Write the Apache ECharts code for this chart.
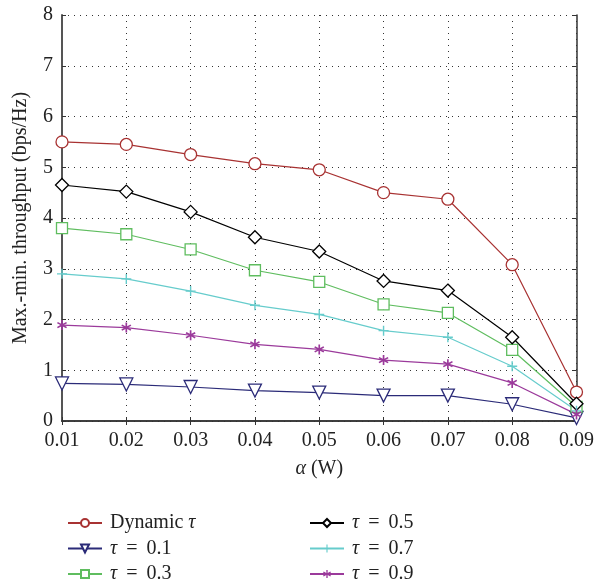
<!DOCTYPE html>
<html><head><meta charset="utf-8">
<script src="https://cdn.jsdelivr.net/npm/echarts@6/dist/echarts.min.js"></script>
<style>html,body{margin:0;padding:0;background:#fff}#c{width:597px;height:584px}</style>
</head><body><div id="c"></div>
<script>
const categories = ['0.01','0.02','0.03','0.04','0.05','0.06','0.07','0.08','0.09'];
const dynamicTau = [5.5, 5.45, 5.25, 5.07, 4.95, 4.5, 4.37, 3.08, 0.57];
const tau01 = [0.74, 0.72, 0.67, 0.6, 0.56, 0.5, 0.5, 0.33, 0.06];
const tau03 = [3.8, 3.68, 3.38, 2.97, 2.74, 2.3, 2.13, 1.4, 0.28];
const tau05 = [4.65, 4.52, 4.12, 3.62, 3.34, 2.76, 2.57, 1.65, 0.34];
const tau07 = [2.9, 2.8, 2.56, 2.28, 2.1, 1.78, 1.65, 1.08, 0.2];
const tau09 = [1.89, 1.84, 1.69, 1.51, 1.41, 1.2, 1.12, 0.75, 0.13];
const yTicks = [0,1,2,3,4,5,6,7,8];

const FONT = '"Liberation Serif","DejaVu Serif",serif';
const FS = 20;
const plusPath = 'path://M4.3,0 L5.7,0 L5.7,4.3 L10,4.3 L10,5.7 L5.7,5.7 L5.7,10 L4.3,10 L4.3,5.7 L0,5.7 L0,4.3 L4.3,4.3 Z';
const starPath = 'path://M4.3,0 L5.7,0 L5.7,3.2 L8.5,1.6 L9.2,2.8 L6.4,4.4 L9.2,6 L8.5,7.2 L5.7,5.6 L5.7,8.8 L4.3,8.8 L4.3,5.6 L1.5,7.2 L0.8,6 L3.6,4.4 L0.8,2.8 L1.5,1.6 L4.3,3.2 Z';

function mk(name, data, color, symbol, size, hollow, rotate) {
  return {
    name, type: 'line', data, xAxisIndex: 0, yAxisIndex: 0,
    symbol, symbolSize: size, symbolRotate: rotate || 0, showAllSymbol: true,
    lineStyle: { color, width: 1.2 },
    itemStyle: hollow ? { color: '#fff', borderColor: color, borderWidth: 1.3 } : { color, borderWidth: 0 },
    emphasis: { disabled: true }, animation: false, z: 3
  };
}

const series = [
  mk('Dynamic τ', dynamicTau, '#a83232', 'circle', 12, true),
  mk('τ = 0.1', tau01, '#2b2b78', 'triangle', 13, true, 180),
  mk('τ = 0.3', tau03, '#5fbd5f', 'rect', 11, true),
  mk('τ = 0.5', tau05, '#000000', 'diamond', 13, true),
  mk('τ = 0.7', tau07, '#66cccc', plusPath, 10, false),
  mk('τ = 0.9', tau09, '#9b3a9b', starPath, 10, false)
];

const italic = { fontStyle: 'italic', fontFamily: FONT, fontSize: FS, color: '#222' };
function legendFmt(n) { return n.replace(/τ/g, '{i|τ}').replace(' = ', '{e|=}'); }
const legendCommon = {
  orient: 'vertical', itemWidth: 34, itemHeight: 10, itemGap: 5.5, height: 120,
  formatter: legendFmt, selectedMode: false,
  textStyle: { fontFamily: FONT, fontSize: FS, lineHeight: 20, color: '#222', padding: [0,0,0,3],
    rich: { i: Object.assign({ lineHeight: 20 }, italic),
            e: { fontFamily: FONT, fontSize: FS, lineHeight: 20, color: '#222', padding: [0, 9] } } }
};

const axisLine = { show: true, lineStyle: { color: '#333', width: 1.5 } };
const chart = echarts.init(document.getElementById('c'), null, { renderer: 'canvas' });
chart.setOption({
  backgroundColor: '#fff',
  animation: false,
  grid: { left: 62, right: 17, top: 15, bottom: 163, containLabel: false },
  xAxis: [{
    type: 'category', data: categories, boundaryGap: false,
    axisLine: axisLine, axisTick: { show: true, inside: true, length: 4, alignWithLabel: true, lineStyle: { color: '#333' } },
    axisLabel: { fontFamily: FONT, fontSize: FS, color: '#222', margin: 10 },
    splitLine: { show: true, lineStyle: { color: '#333', type: [1, 5], width: 1 } },
    name: '{i|α} (W)', nameLocation: 'middle', nameGap: 38,
    nameTextStyle: { fontFamily: FONT, fontSize: FS, color: '#222', rich: { i: italic } }
  }, {
    type: 'category', data: categories, boundaryGap: false, position: 'top',
    axisLine: axisLine, axisTick: { show: true, inside: true, length: 4, lineStyle: { color: '#333' } },
    axisLabel: { show: false }, splitLine: { show: false }
  }],
  yAxis: [{
    type: 'value', min: 0, max: 8, interval: 1,
    axisLine: { show: true, lineStyle: { color: '#555', width: 2 } },
    axisTick: { show: true, inside: true, length: 4, lineStyle: { color: '#333' } },
    axisLabel: { fontFamily: FONT, fontSize: FS, color: '#222', margin: 9,
      formatter: v => yTicks.includes(v) ? String(v) : '' },
    splitLine: { show: true, lineStyle: { color: '#333', type: [1, 5], width: 1 } },
    name: 'Max.-min. throughput (bps/Hz)', nameLocation: 'middle', nameGap: 31,
    nameTextStyle: { fontFamily: FONT, fontSize: FS, color: '#222' }
  }, {
    type: 'value', min: 0, max: 8, interval: 1, position: 'right',
    axisLine: axisLine, axisTick: { show: true, inside: true, length: 4, lineStyle: { color: '#333' } },
    axisLabel: { show: false }, splitLine: { show: false }
  }],
  legend: [
    Object.assign({ left: 62, top: 508, data: ['Dynamic τ', 'τ = 0.1', 'τ = 0.3'] }, legendCommon),
    Object.assign({ left: 304, top: 508, data: ['τ = 0.5', 'τ = 0.7', 'τ = 0.9'] }, legendCommon)
  ],
  series
});
</script></body></html>
